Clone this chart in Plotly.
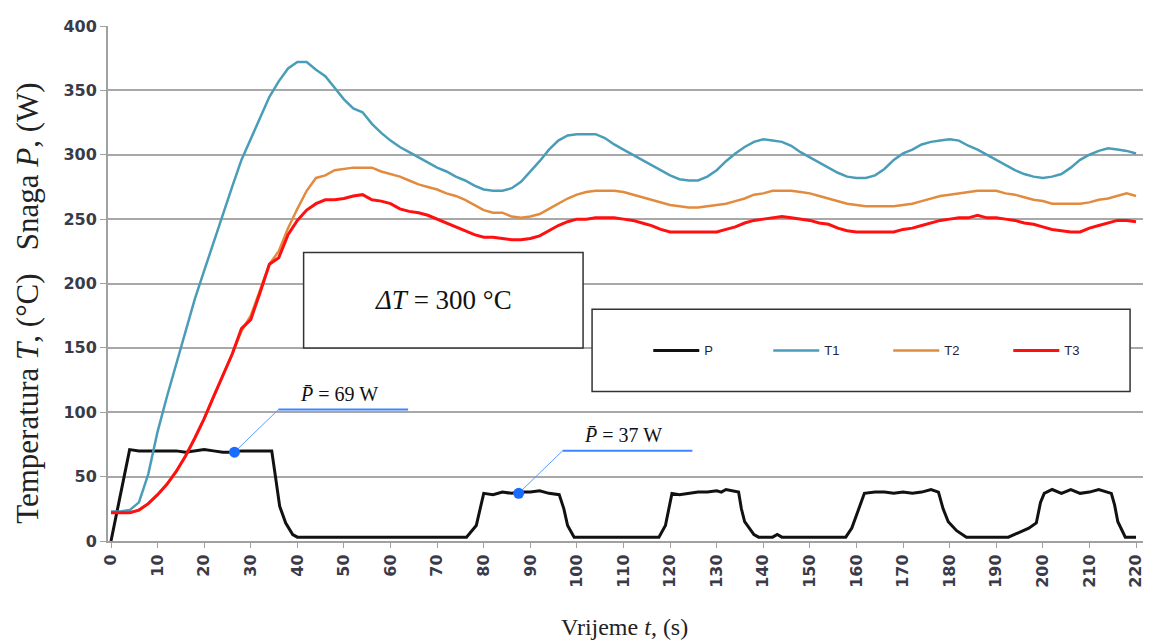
import plotly.graph_objects as go

# ---------------- data ----------------
t_T = list(range(0, 221, 2))

T1 = [23, 23, 24, 30, 52, 85, 112, 138, 163, 188, 210, 232, 253, 275, 296, 312, 328, 345, 357, 367,
      372, 372, 366, 361, 352, 343, 336, 333, 324, 317, 311, 306, 302, 298, 294, 290, 287, 283, 280, 276,
      273, 272, 272, 274, 279, 287, 295, 304, 311, 315, 316, 316, 316, 313, 308, 304, 300, 296, 292, 288,
      284, 281, 280, 280, 283, 288, 295, 301, 306, 310, 312, 311, 310, 307, 302, 298, 294, 290, 286, 283,
      282, 282, 284, 289, 296, 301, 304, 308, 310, 311, 312, 311, 307, 304, 300, 296, 292, 288, 285, 283,
      282, 283, 285, 290, 296, 300, 303, 305, 304, 303, 301]

T2 = [22, 22, 22, 24, 29, 36, 44, 54, 66, 80, 95, 112, 128, 145, 163, 175, 195, 215, 225, 243,
      258, 272, 282, 284, 288, 289, 290, 290, 290, 287, 285, 283, 280, 277, 275, 273, 270, 268, 265, 261,
      257, 255, 255, 252, 251, 252, 254, 258, 262, 266, 269, 271, 272, 272, 272, 271, 269, 267, 265, 263,
      261, 260, 259, 259, 260, 261, 262, 264, 266, 269, 270, 272, 272, 272, 271, 270, 268, 266, 264, 262,
      261, 260, 260, 260, 260, 261, 262, 264, 266, 268, 269, 270, 271, 272, 272, 272, 270, 269, 267, 265,
      264, 262, 262, 262, 262, 263, 265, 266, 268, 270, 268]

T3 = [22, 22, 22, 24, 29, 36, 44, 54, 66, 80, 95, 112, 128, 145, 165, 172, 193, 215, 220, 238,
      249, 257, 262, 265, 265, 266, 268, 269, 265, 264, 262, 258, 256, 255, 253, 250, 247, 244, 241, 238,
      236, 236, 235, 234, 234, 235, 237, 241, 245, 248, 250, 250, 251, 251, 251, 250, 249, 247, 245, 242,
      240, 240, 240, 240, 240, 240, 242, 244, 247, 249, 250, 251, 252, 251, 250, 249, 247, 246, 243, 241,
      240, 240, 240, 240, 240, 242, 243, 245, 247, 249, 250, 251, 251, 253, 251, 251, 250, 249, 247, 246,
      244, 242, 241, 240, 240, 243, 245, 247, 249, 249, 248]

t_P = [0, 4, 6, 8, 10, 12, 14, 16, 18, 20, 22, 24, 26, 28, 30, 32, 34.5, 35.3, 36.2, 37.5, 39, 40,
       76.3, 78.4, 79.2, 80, 82, 84, 86, 88, 90, 92, 94, 96.2, 97.2, 98, 99.4,
       117.6, 119, 120.4, 122, 124, 126, 128, 130, 131, 132, 134.7, 135.3, 136, 138, 139, 142, 143, 144,
       157.7, 159, 160, 161, 161.7, 164, 166, 168, 170, 172, 174, 176, 177.6, 178.6, 179.7, 181.5, 183.6,
       192.6, 194.5, 197, 198.6, 199.5, 200.3, 202, 204, 206, 208, 210, 212, 214.7, 215.4, 216.1, 217.7, 220]
P = [0, 71, 70, 70, 70, 70, 70, 69, 70, 71, 70, 69, 69, 70, 70, 70, 70, 50, 27, 14, 5, 3,
     3, 12, 25, 37, 36, 38, 37, 38, 38, 39, 37, 36, 25, 12, 3,
     3, 12, 37, 36, 37, 38, 38, 39, 38, 40, 38, 25, 15, 5, 3, 3, 5, 3,
     3, 10, 20, 30, 37, 38, 38, 37, 38, 37, 38, 40, 38, 25, 15, 8, 3,
     3, 6, 10, 14, 30, 37, 40, 37, 40, 37, 38, 40, 37, 28, 15, 3, 3]

x_ticks = list(range(0, 221, 10))
y_ticks = list(range(0, 401, 50))

# callouts: mean power markers
ann_t = [26.5, 87.5]
ann_p = [69, 37]
ann_text = ["<i>P\u0304</i> = 69 W", "<i>P\u0304</i> = 37 W"]

names = ["P", "T1", "T2", "T3"]
colors = ["#111111", "#4a9db8", "#e28a3e", "#ff1010"]
widths = [3, 2.5, 2.5, 3]

# ---------------- figure ----------------
fig = go.Figure()
fig.add_trace(go.Scatter(x=t_P, y=P, mode="lines", name=names[0],
                         line=dict(color=colors[0], width=widths[0])))
fig.add_trace(go.Scatter(x=t_T, y=T1, mode="lines", name=names[1],
                         line=dict(color=colors[1], width=widths[1])))
fig.add_trace(go.Scatter(x=t_T, y=T2, mode="lines", name=names[2],
                         line=dict(color=colors[2], width=widths[2])))
fig.add_trace(go.Scatter(x=t_T, y=T3, mode="lines", name=names[3],
                         line=dict(color=colors[3], width=widths[3])))

# callout leader lines (diagonal + underline), offsets in axis units
px_x = 1027 / 220.0   # pixels per second
px_y = 520 / 400.0    # pixels per unit
for tt, pp, txt in zip(ann_t, ann_p, ann_text):
    xe = tt + 44 / px_x
    ye = pp + 43 / px_y
    xh = xe + 130 / px_x
    fig.add_trace(go.Scatter(x=[tt, xe], y=[pp, ye], mode="lines", showlegend=False,
                             hoverinfo="skip", line=dict(color="#5b9bff", width=1)))
    fig.add_trace(go.Scatter(x=[xe, xh], y=[ye, ye], mode="lines", showlegend=False,
                             hoverinfo="skip", line=dict(color="#3d86ff", width=2)))
    fig.add_trace(go.Scatter(x=[tt], y=[pp], mode="markers", showlegend=False,
                             hoverinfo="skip", marker=dict(color="#1a6cff", size=11)))
    fig.add_annotation(x=(xe + xh) / 2 - 1, y=ye, xref="x", yref="y", text=txt,
                       showarrow=False, xanchor="center", yanchor="bottom", yshift=3,
                       font=dict(family="Liberation Serif", size=20, color="#111111"))

# Delta T box
fig.add_shape(type="rect", xref="paper", yref="paper", x0=0.189, x1=0.459, y0=0.375, y1=0.56,
              line=dict(color="#333333", width=1.5), fillcolor="white", layer="above")
fig.add_annotation(xref="paper", yref="paper", x=0.324, y=0.468, showarrow=False,
                   xanchor="center", yanchor="middle",
                   text="<i>\u0394T</i> = 300 \u00b0C",
                   font=dict(family="Liberation Serif", size=27, color="#111111"))

# legend box
fig.add_shape(type="rect", xref="paper", yref="paper", x0=0.4677, x1=0.9875, y0=0.2904, y1=0.45,
              line=dict(color="#333333", width=1.5), fillcolor="white", layer="above")

fig.update_layout(
    width=1146, height=635,
    margin=dict(l=100, r=9, t=13, b=102),
    plot_bgcolor="white", paper_bgcolor="white",
    showlegend=True,
    legend=dict(orientation="h", x=0.522, y=0.37, xanchor="left", yanchor="middle",
                bgcolor="rgba(0,0,0,0)", borderwidth=0, itemwidth=46,
                entrywidth=59, entrywidthmode="pixels",
                font=dict(family="Liberation Sans", size=13, color="#222244")),
    xaxis=dict(range=[-0.643, 221.5], tickvals=x_ticks, ticktext=[str(v) for v in x_ticks],
               tickangle=-90, showgrid=False, zeroline=False,
               showline=True, linecolor="#a0a0a0", linewidth=2,
               ticks="outside", ticklen=5, tickcolor="#a0a0a0",
               tickfont=dict(family="DejaVu Sans", size=16, color="#3a3a48", weight="bold")),
    yaxis=dict(range=[0, 400], tickvals=y_ticks, showgrid=True, gridcolor="#a8a8a8", gridwidth=1.5,
               zeroline=False, showline=True, linecolor="#a0a0a0", linewidth=2,
               ticks="outside", ticklen=6, tickcolor="#a0a0a0",
               tickfont=dict(family="DejaVu Sans", size=16, color="#3a3a48", weight="bold")),
)

# axis titles
fig.add_annotation(xref="paper", yref="paper", x=-0.078, y=0.463, showarrow=False, textangle=-90,
                   xanchor="center", yanchor="middle", borderpad=0,
                   text="Temperatura <i>T</i>, (\u00b0C)\u00a0\u00a0\u00a0Snaga <i>P</i>, (W)",
                   font=dict(family="Liberation Serif", size=31, color="#222222"))
fig.add_annotation(xref="paper", yref="paper", x=0.4995, y=-0.167, showarrow=False,
                   xanchor="center", yanchor="middle",
                   text="Vrijeme <i>t</i>, (s)",
                   font=dict(family="Liberation Serif", size=24, color="#222222"))

fig.write_html("out.html")
